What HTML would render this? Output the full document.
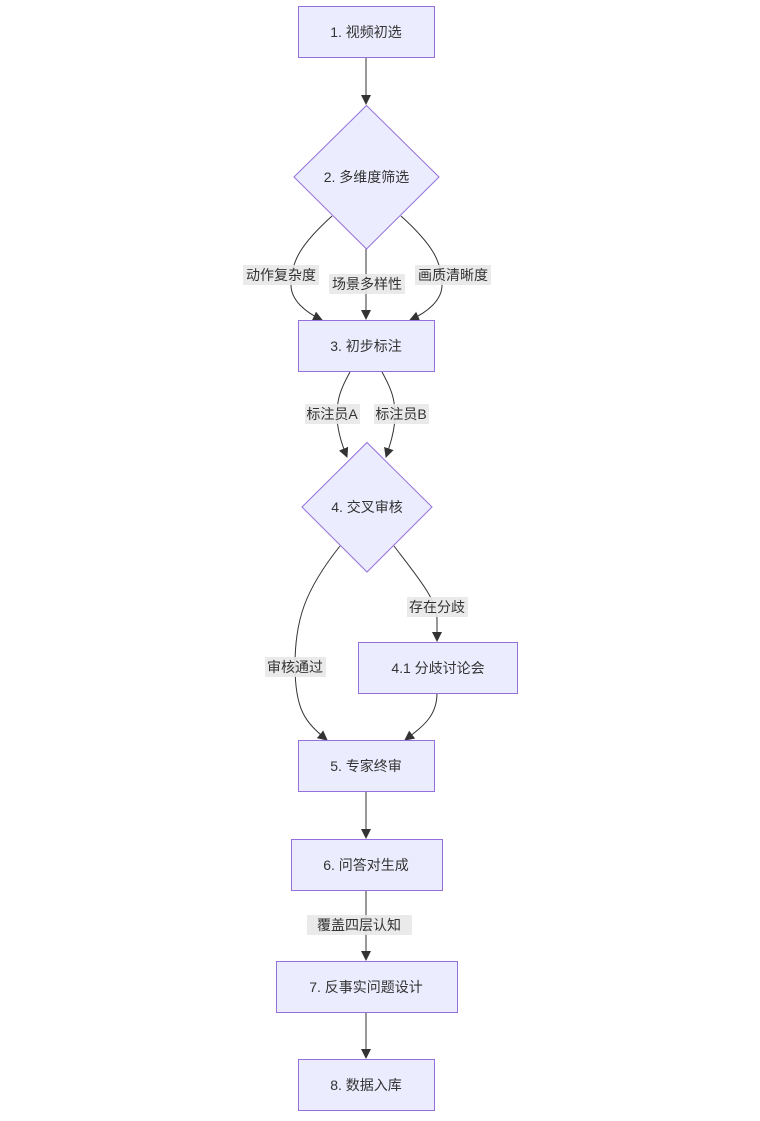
<!DOCTYPE html>
<html><head><meta charset="utf-8"><style>
html,body{margin:0;padding:0;background:#fff;}
svg{display:block;}
text{font-family:"Liberation Sans","Noto Sans CJK SC",sans-serif;font-size:14px;fill:#333;}
.n{fill:#ECECFF;stroke:#9370DB;stroke-width:1;}
.e{fill:none;stroke:#333;stroke-width:1;}
.lb{fill:#e8e8e8;opacity:0.9;}
</style></head><body>
<svg width="760" height="1121" viewBox="0 0 760 1121">
<defs><marker id="a" viewBox="0 0 10 10" refX="9" refY="5" markerWidth="10" markerHeight="10" markerUnits="userSpaceOnUse" orient="auto"><path d="M0,0 L10,5 L0,10 z" fill="#333"/></marker></defs>
<path class="e" d="M366,58 L366,104" marker-end="url(#a)"/>
<path class="e" d="M332,216 C300,245 291,262 291,285 C291,300 305,312 322,320" marker-end="url(#a)"/>
<path class="e" d="M366,249 L366,319" marker-end="url(#a)"/>
<path class="e" d="M401,216 C433,245 442,262 442,285 C442,300 428,312 410,320" marker-end="url(#a)"/>
<path class="e" d="M350,372 C340,390 337,400 337,415 C337,430 342,445 347,457" marker-end="url(#a)"/>
<path class="e" d="M382,372 C392,390 395,400 395,415 C395,430 390,445 386,457" marker-end="url(#a)"/>
<path class="e" d="M340,546 C305,590 295,620 295,665 C295,710 305,722 327,740" marker-end="url(#a)"/>
<path class="e" d="M394,546 C420,580 437,600 437,620 L437,641" marker-end="url(#a)"/>
<path class="e" d="M437,693 C437,715 425,725 405,740" marker-end="url(#a)"/>
<path class="e" d="M366,792 L366,838" marker-end="url(#a)"/>
<path class="e" d="M366,890 L366,960" marker-end="url(#a)"/>
<path class="e" d="M366,1012 L366,1058" marker-end="url(#a)"/>
<rect class="n" x="298.5" y="6.5" width="136" height="51"/><text x="366" y="37" text-anchor="middle">1. 视频初选</text>
<polygon class="n" points="366.5,105.5 439,177 366.5,249 294,177"/><text x="366.5" y="182" text-anchor="middle">2. 多维度筛选</text>
<rect class="n" x="298.5" y="320.5" width="136" height="51"/><text x="366" y="351" text-anchor="middle">3. 初步标注</text>
<polygon class="n" points="367,442.5 432,507 367,572 302,507"/><text x="367" y="512" text-anchor="middle">4. 交叉审核</text>
<rect class="n" x="358.5" y="642.5" width="159" height="51"/><text x="438" y="673" text-anchor="middle">4.1 分歧讨论会</text>
<rect class="n" x="298.5" y="740.5" width="136" height="51"/><text x="366" y="771" text-anchor="middle">5. 专家终审</text>
<rect class="n" x="291.5" y="839.5" width="151" height="51"/><text x="366" y="870" text-anchor="middle">6. 问答对生成</text>
<rect class="n" x="276.5" y="961.5" width="181" height="51"/><text x="366" y="992" text-anchor="middle">7. 反事实问题设计</text>
<rect class="n" x="298.5" y="1059.5" width="136" height="51"/><text x="366" y="1090" text-anchor="middle">8. 数据入库</text>
<rect class="lb" x="243" y="265" width="76" height="20"/><text x="281" y="280" text-anchor="middle">动作复杂度</text>
<rect class="lb" x="329" y="274" width="76" height="20"/><text x="367" y="289" text-anchor="middle">场景多样性</text>
<rect class="lb" x="415" y="265" width="76" height="20"/><text x="453" y="280" text-anchor="middle">画质清晰度</text>
<rect class="lb" x="305" y="404" width="55" height="20"/><text x="332" y="419" text-anchor="middle">标注员A</text>
<rect class="lb" x="374" y="404" width="55" height="20"/><text x="401" y="419" text-anchor="middle">标注员B</text>
<rect class="lb" x="407" y="597" width="61" height="20"/><text x="437" y="612" text-anchor="middle">存在分歧</text>
<rect class="lb" x="265" y="657" width="61" height="20"/><text x="295" y="672" text-anchor="middle">审核通过</text>
<rect class="lb" x="307" y="915" width="105" height="20"/><text x="359" y="930" text-anchor="middle">覆盖四层认知</text>
</svg>
</body></html>
